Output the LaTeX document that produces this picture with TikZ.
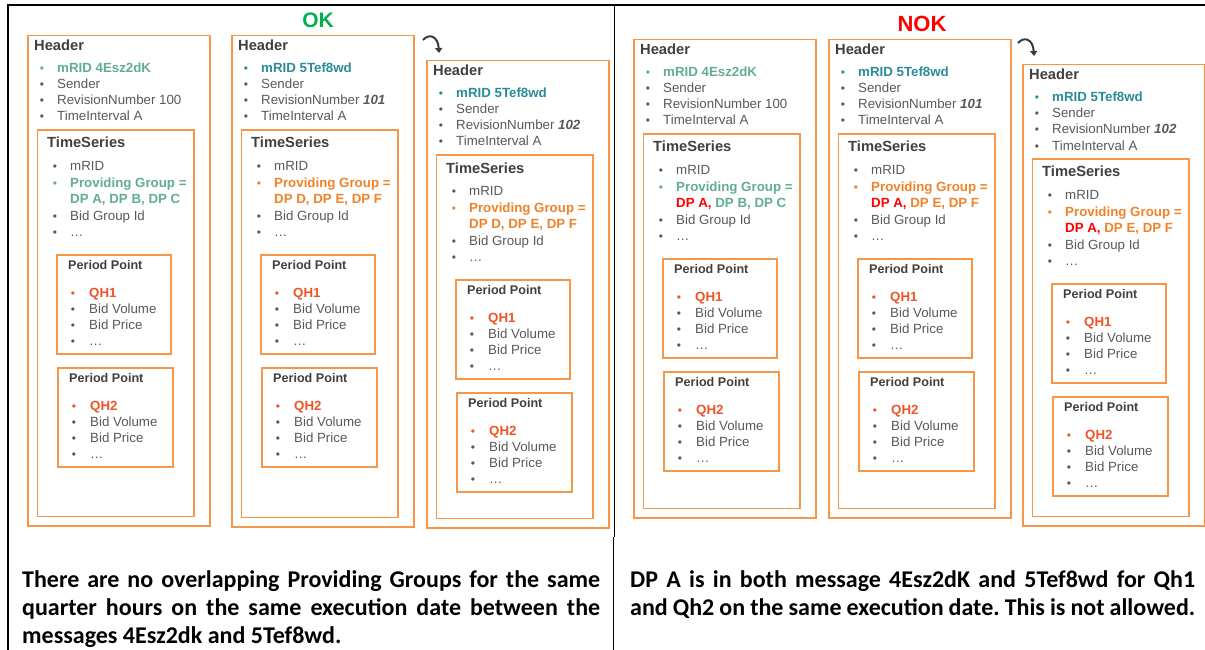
\documentclass[tikz,border=0pt]{standalone}
\usepackage{fontspec}
\setmainfont{Liberation Sans}
\newfontfamily\calib{Carlito}
\usetikzlibrary{arrows.meta}
\definecolor{boxor}{HTML}{F79646}
\definecolor{ttlgrey}{HTML}{404040}
\definecolor{itgrey}{HTML}{595959}
\definecolor{lteal}{HTML}{62AC98}
\definecolor{dteal}{HTML}{2B8C99}
\definecolor{pgor}{HTML}{F0832A}
\definecolor{qhred}{HTML}{EE5428}
\definecolor{dpred}{HTML}{FF0000}
\definecolor{okgreen}{HTML}{00B050}
\definecolor{arrowgrey}{HTML}{3A3A3A}
\definecolor{shadowc}{HTML}{DDDDDD}
\tikzset{
  obox/.style={draw=boxor, line width=1.5pt, fill=white, anchor=north west, inner sep=0pt},
  shad/.style={fill=shadowc},
  ttl/.style={anchor=base west, inner sep=0pt, font=\fontsize{14.7}{16}\selectfont\bfseries, text=ttlgrey},
  pttl/.style={anchor=base west, inner sep=0pt, font=\fontsize{12.6}{14}\selectfont\bfseries, text=ttlgrey},
  itm/.style={anchor=base west, inner sep=0pt, font=\fontsize{13.3}{15}\selectfont, text=itgrey},
  itmb/.style={anchor=base west, inner sep=0pt, font=\fontsize{13.3}{15}\selectfont\bfseries, text=itgrey},
  bul/.style={anchor=base, inner sep=0pt, font=\fontsize{12}{13}\selectfont, text=itgrey},
  bt/.style={anchor=base west, inner sep=0pt, font=\calib\bfseries\frenchspacing\fontsize{24}{28}\selectfont, text=black},
  curarrow/.style={draw=arrowgrey, line width=2pt, -{Triangle[length=5pt,width=7pt]}},
  rule/.style={draw=black, line width=1.8pt},
  thinrule/.style={draw=black, line width=1pt},
}
% period point box: #1 name, #2 x, #3 y, #4 width, #5 QH label
\newcommand\ppbox[5]{%
  \fill[shad] ({#2+1.8},{#3+1.8}) rectangle ++(#4,99);
  \node[obox, minimum width=#4pt, minimum height=99pt] (#1) at (#2,#3) {};
  \node[pttl] (#1t) at ({#2+12},{#3+15}) {Period Point};
  \node[bul, text=qhred] (#1b1) at ({#2+17},{#3+43}) {•};
  \node[itmb, text=qhred] (#1i1) at ({#2+33},{#3+43}) {#5};
  \node[bul] (#1b2) at ({#2+17},{#3+59}) {•};
  \node[itm] (#1i2) at ({#2+33},{#3+59}) {Bid Volume};
  \node[bul] (#1b3) at ({#2+17},{#3+75}) {•};
  \node[itm] (#1i3) at ({#2+33},{#3+75}) {Bid Price};
  \node[bul] (#1b4) at ({#2+17},{#3+91}) {•};
  \node[itm] (#1i4) at ({#2+33},{#3+91}) {…};
}
% message column: #1 name, #2 x, #3 y, #4 height, #5 mRID colour, #6 mRID id,
% #7 revision number, #8 PG colour, #9 PG second line
\newcommand\msgcol[9]{%
\begin{scope}[shift={(#2,#3)}]
  \fill[shad] (1.8,1.8) rectangle ++(182,#4);
  \node[obox, minimum width=182pt, minimum height=#4pt] (#1H) at (0,0) {};
  \node[ttl] (#1Ht) at (7,16) {Header};
  \node[bul, text=#5] (#1hb1) at (15,38) {•};
  \node[itmb, text=#5] (#1hi1) at (30,38) {mRID #6};
  \node[bul] (#1hb2) at (15,54) {•};
  \node[itm] (#1hi2) at (30,54) {Sender};
  \node[bul] (#1hb3) at (15,70) {•};
  \node[itm] (#1hi3) at (30,70) {RevisionNumber #7};
  \node[bul] (#1hb4) at (15,86) {•};
  \node[itm] (#1hi4) at (30,86) {TimeInterval A};
  \fill[shad] (11.3,96.3) rectangle ++(156.5,{#4-104});
  \node[obox, minimum width=156.5pt, minimum height=#4pt-104pt] (#1T) at (9.5,94.5) {};
  \node[ttl] (#1Tt) at (20,113) {TimeSeries};
  \node[bul] (#1tb1) at (28,136) {•};
  \node[itm] (#1ti1) at (43,136) {mRID};
  \node[bul, text=#8] (#1tb2) at (28,152.5) {•};
  \node[itmb, text=#8] (#1ti2) at (43,152.5) {Providing Group =};
  \node[itmb] (#1ti3) at (43,168.5) {#9};
  \node[bul] (#1tb4) at (28,185) {•};
  \node[itm] (#1ti4) at (43,185) {Bid Group Id};
  \node[bul] (#1tb5) at (28,201) {•};
  \node[itm] (#1ti5) at (43,201) {…};
  \ppbox{#1P}{29}{219}{114}{QH1}
  \ppbox{#1Q}{30}{332}{115}{QH2}
\end{scope}}
\begin{document}
\begin{tikzpicture}[x=1pt,y=-1pt]
\useasboundingbox (0,0) rectangle (1205,650);
% table rules
\coordinate (tl) at (7,5); \coordinate (tr) at (1205,5);
\coordinate (lb) at (8,650); \coordinate (lt) at (8,5);
\coordinate (mt) at (614,5); \coordinate (mm) at (614,537);
\coordinate (mm2) at (613.5,537); \coordinate (mb) at (613.5,650);
\draw[rule] (tl) -- (tr);
\draw[rule] (lt) -- (lb);
\draw[thinrule] (mt) -- (mm);
\draw[rule] (mm2) -- (mb);
% titles
\node[font=\fontsize{21}{24}\selectfont\bfseries, text=okgreen] (ok) at (318,20) {OK};
\node[font=\fontsize{22}{24}\selectfont\bfseries, text=dpred] (nok) at (922,24) {NOK};
% OK side
\msgcol{a}{27}{35}{490}{lteal}{4Esz2dK}{100}{lteal}{\color{lteal}DP A, DP B, DP C}
\msgcol{b}{231}{35}{491}{dteal}{5Tef8wd}{\textbf{\textit{101}}}{pgor}{\color{pgor}DP D, DP E, DP F}
\msgcol{c}{426}{60}{467}{dteal}{5Tef8wd}{\textbf{\textit{102}}}{pgor}{\color{pgor}DP D, DP E, DP F}
% NOK side
\msgcol{d}{633}{39}{478}{lteal}{4Esz2dK}{100}{lteal}{\color{dpred}DP A, \color{lteal}DP B, DP C}
\msgcol{e}{828}{39}{478}{dteal}{5Tef8wd}{\textbf{\textit{101}}}{pgor}{\color{dpred}DP A, \color{pgor}DP E, DP F}
\msgcol{f}{1022}{64}{461}{dteal}{5Tef8wd}{\textbf{\textit{102}}}{pgor}{\color{dpred}DP A, \color{pgor}DP E, DP F}
% curved arrows
\coordinate (a1s) at (423,40); \coordinate (a1e) at (439,53);
\draw[curarrow] (a1s) .. controls (429,33) and (438,36) .. (a1e);
\coordinate (a2s) at (1018,43); \coordinate (a2e) at (1034,56);
\draw[curarrow] (a2s) .. controls (1024,36) and (1033,39) .. (a2e);
% bottom texts
\node[bt] (l1) at (22,587) {\makebox[578pt][s]{There are no overlapping Providing Groups for the same}};
\node[bt] (l2) at (22,615) {\makebox[578pt][s]{quarter hours on the same execution date between the}};
\node[bt] (l3) at (22,643) {messages 4Esz2dk and 5Tef8wd.};
\node[bt] (r1) at (630,587) {\makebox[565pt][s]{DP A is in both message 4Esz2dK and 5Tef8wd for Qh1}};
\node[bt] (r2) at (630,615) {\makebox[565pt][s]{and Qh2 on the same execution date. This is not allowed.}};
\end{tikzpicture}
\end{document}
